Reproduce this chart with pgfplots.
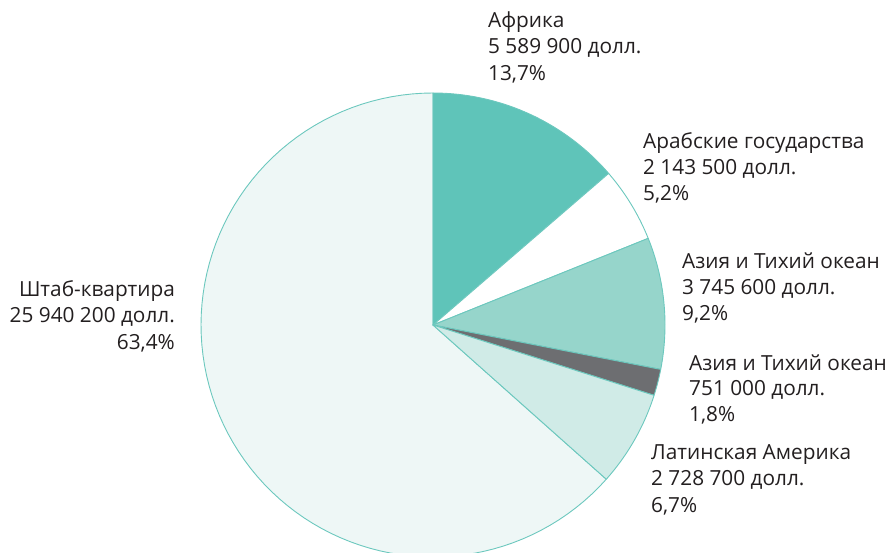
\documentclass[border=0pt]{standalone}
\usepackage{pgfplots}
\pgfplotsset{compat=1.18}
\usepackage{fontspec}
\setmainfont{Open Sans}
\definecolor{cAf}{HTML}{5FC4B9}
\definecolor{cAr}{HTML}{FFFFFF}
\definecolor{cAs}{HTML}{96D5CB}
\definecolor{cAt}{HTML}{6D6E71}
\definecolor{cLa}{HTML}{D0EBE7}
\definecolor{cHq}{HTML}{EEF7F6}
\definecolor{cEdge}{HTML}{6CC8BE}
\definecolor{cText}{HTML}{231F20}
% values (USD)
\newcommand\vAf{5589900}
\newcommand\vAr{2143500}
\newcommand\vAs{3745600}
\newcommand\vAt{751000}
\newcommand\vLa{2728700}
\newcommand\vHq{25940200}
\edef\tot{\fpeval{\vAf+\vAr+\vAs+\vAt+\vLa+\vHq}}
\edef\aA{90}
\edef\aB{\fpeval{round(90-360*\vAf/\tot,4)}}
\edef\aC{\fpeval{round(\aB-360*\vAr/\tot,4)}}
\edef\aD{\fpeval{round(\aC-360*\vAs/\tot,4)}}
\edef\aE{\fpeval{round(\aD-360*\vAt/\tot,4)}}
\edef\aF{\fpeval{round(\aE-360*\vLa/\tot,4)}}
\edef\aG{\fpeval{round(\aF-360*\vHq/\tot,4)}}
\newcommand\slice[3]{\addplot[fill=#3, draw=cEdge, line width=0.9pt, line join=round, domain=#1:#2, samples=90, variable=\t] ({433+232*cos(t)},{228+232*sin(t)}) -- (axis cs:433,228) -- cycle;}
\newcommand\lab[4]{%
  \node[anchor=base #1] at (axis cs:#2,553-#3) {#4};}
\begin{document}
\begin{tikzpicture}[font=\fontsize{20.8}{24}\selectfont, every node/.style={text=cText, inner sep=0pt}]
\begin{axis}[at={(0,0)}, anchor=south west, width=887pt, height=553pt, scale only axis,
  xmin=0, xmax=887, ymin=0, ymax=553, hide axis, clip=true]
\slice{\aG}{\aF}{cHq}
\slice{\aB}{\aA}{cAf}
\slice{\aC}{\aB}{cAr}
\slice{\aD}{\aC}{cAs}
\slice{\aE}{\aD}{cAt}
\slice{\aF}{\aE}{cLa}
% labels
\lab{west}{488}{28}{Африка}
\lab{west}{488}{54}{5 589 900 долл.}
\lab{west}{488}{81}{13,7\%}
\lab{west}{643}{149}{Арабские государства}
\lab{west}{643}{175}{2 143 500 долл.}
\lab{west}{643}{201}{5,2\%}
\lab{west}{682}{269}{Азия и Тихий океан}
\lab{west}{682}{295}{3 745 600 долл.}
\lab{west}{682}{321}{9,2\%}
\lab{west}{689}{371}{Азия и Тихий океан}
\lab{west}{689}{396}{751 000 долл.}
\lab{west}{689}{422}{1,8\%}
\lab{west}{651}{460}{Латинская Америка}
\lab{west}{651}{486}{2 728 700 долл.}
\lab{west}{651}{513}{6,7\%}
\lab{east}{175}{297}{Штаб-квартира}
\lab{east}{175}{323}{25 940 200 долл.}
\lab{east}{175}{350}{63,4\%}
\end{axis}
\pgfresetboundingbox
\useasboundingbox (0,0) rectangle (887pt,553pt);
\end{tikzpicture}
\end{document}
